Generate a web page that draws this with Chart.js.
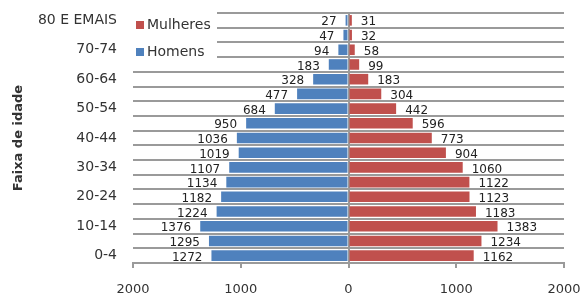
<!DOCTYPE html>
<html>
<head>
<meta charset="utf-8">
<script src="https://cdn.jsdelivr.net/npm/chart.js@4/dist/chart.umd.min.js"></script>
<style>
  html, body { margin: 0; padding: 0; background: #fff; }
  #wrap { width: 585px; height: 293px; }
</style>
</head>
<body>
<div id="wrap"><canvas id="pyramid"></canvas></div>
<script>
// bottom to top
const ageGroups = ['0-4', '5-9', '10-14', '15-19', '20-24', '25-29', '30-34', '35-39', '40-44',
  '45-49', '50-54', '55-59', '60-64', '65-69', '70-74', '75-79', '80 E EMAIS'];
const homens = [1272, 1295, 1376, 1224, 1182, 1134, 1107, 1019, 1036, 950, 684, 477, 328, 183, 94, 47, 27];
const mulheres = [1162, 1234, 1383, 1183, 1123, 1122, 1060, 904, 773, 596, 442, 304, 183, 99, 58, 32, 31];
const xTicks = [-2000, -1000, 0, 1000, 2000];

const BLUE = '#4f81bd';
const RED = '#c0504d';
const GRID = '#9a9a9a';
const FONT = 'DejaVu Sans';

// numbers at the bar ends
const valueLabels = {
  id: 'valueLabels',
  afterDatasetsDraw(chart) {
    const ctx = chart.ctx;
    ctx.save();
    ctx.font = '12px ' + FONT;
    ctx.fillStyle = '#222';
    ctx.textBaseline = 'middle';
    chart.data.datasets.forEach((ds, i) => {
      chart.getDatasetMeta(i).data.forEach((bar, j) => {
        const v = ds.data[j];
        const neg = v < 0;
        ctx.textAlign = neg ? 'right' : 'left';
        ctx.fillText(String(Math.abs(v)), bar.x + (neg ? -9 : 9), bar.y + 2);
      });
    });
    ctx.restore();
  },
};

// legend sits inside the plot, on a white box over the grid lines
const boxLegend = {
  id: 'boxLegend',
  afterDraw(chart) {
    const ctx = chart.ctx;
    const a = chart.chartArea;
    const x = a.left - 2;
    ctx.save();
    ctx.fillStyle = '#fff';
    ctx.fillRect(x, a.top - 3, 86, 55);
    ctx.font = '14px ' + FONT;
    ctx.textBaseline = 'middle';
    ctx.textAlign = 'left';
    const items = [['Mulheres', RED], ['Homens', BLUE]];
    items.forEach(([name, color], k) => {
      const cy = a.top + 12 + k * 27;
      ctx.fillStyle = color;
      ctx.fillRect(x + 5, cy - 4, 8, 8);
      ctx.fillStyle = '#333';
      ctx.fillText(name, x + 16, cy);
    });
    ctx.restore();
  },
};

new Chart(document.getElementById('pyramid'), {
  type: 'bar',
  data: {
    labels: ageGroups,
    datasets: [
      { label: 'Homens', data: homens.map(v => -v), backgroundColor: BLUE, barPercentage: 0.72, categoryPercentage: 1 },
      { label: 'Mulheres', data: mulheres, backgroundColor: RED, barPercentage: 0.72, categoryPercentage: 1 },
    ],
  },
  options: {
    indexAxis: 'y',
    responsive: true,
    maintainAspectRatio: false,
    animation: false,
    layout: { padding: { left: 7, right: 21, top: 13, bottom: 0 } },
    plugins: {
      legend: { display: false },
      tooltip: { enabled: false },
    },
    scales: {
      x: {
        stacked: true,
        min: -2000,
        max: 2000,
        afterBuildTicks(scale) { scale.ticks = xTicks.map(v => ({ value: v })); },
        afterFit(scale) {
          scale.height = 30;
          scale.paddingLeft = 0;
          scale.paddingRight = 0;
        },
        border: { display: true, color: GRID, width: 2 },
        grid: {
          color: ctx => (ctx.tick && ctx.tick.value === 0 ? GRID : 'rgba(0,0,0,0)'),
          lineWidth: 2,
          tickColor: GRID,
          tickLength: 5,
        },
        ticks: {
          color: '#333',
          padding: 14,
          font: { family: FONT, size: 13 },
          callback(value) { return String(Math.abs(value)); },
        },
      },
      y: {
        stacked: true,
        reverse: true,
        afterFit(scale) {
          scale.width = 126;
          scale.paddingTop = 0;
          scale.paddingBottom = 0;
        },
        border: { display: false },
        grid: { offset: true, color: GRID, lineWidth: 2, drawTicks: false },
        ticks: {
          autoSkip: false,
          color: '#333',
          padding: 16,
          font: { family: FONT, size: 14 },
          callback(value, index) { return index % 2 === 0 ? ageGroups[index] : ''; },
        },
        title: {
          display: true,
          text: 'Faixa de idade',
          color: '#333',
          font: { family: FONT, size: 13, weight: 'bold' },
        },
      },
    },
  },
  plugins: [valueLabels, boxLegend],
});
</script>
</body>
</html>
